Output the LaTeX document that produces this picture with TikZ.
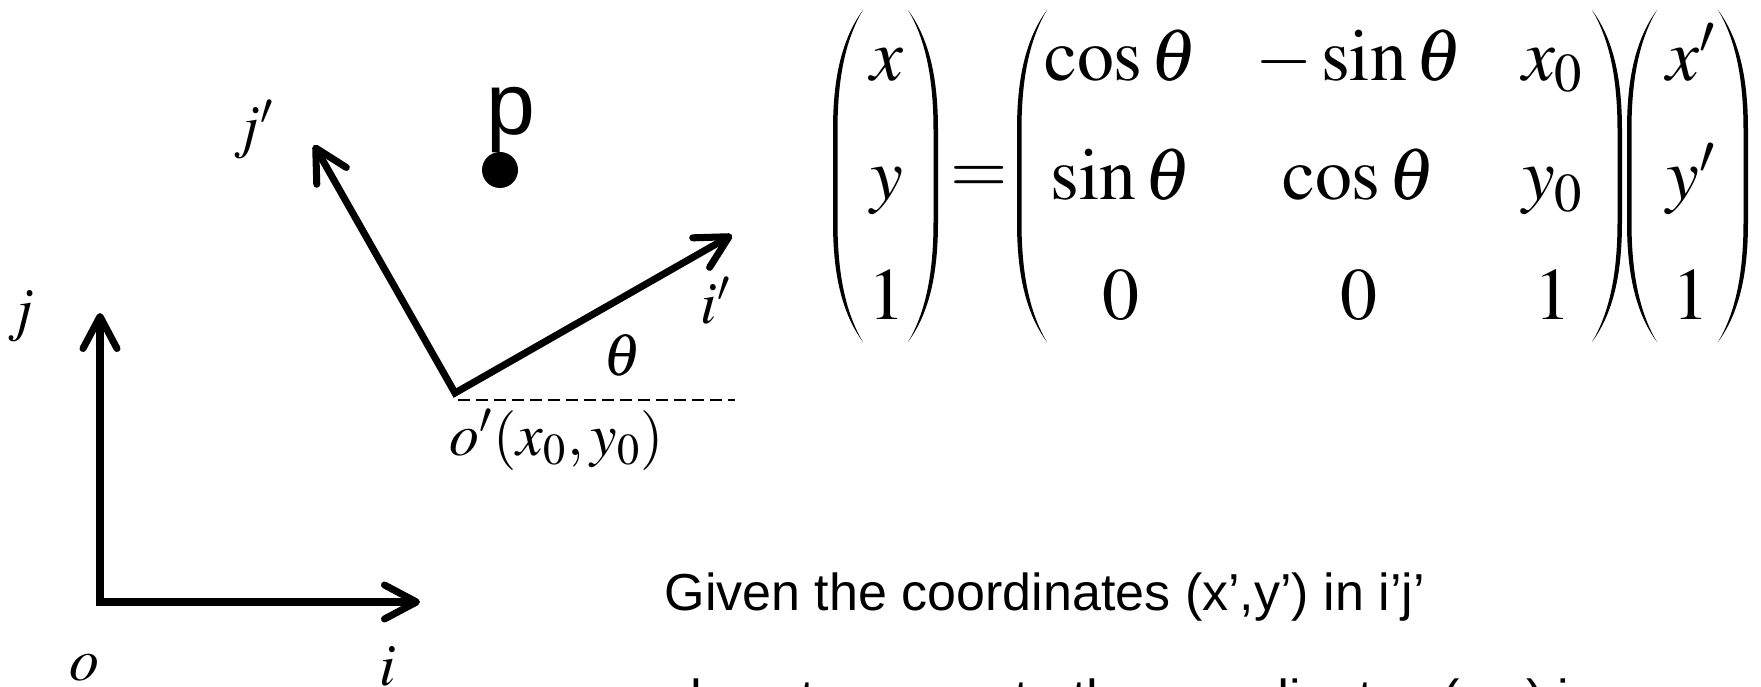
\documentclass[tikz,border=0pt]{standalone}
\usepackage{mathptmx}
\usepackage{fontspec}
\setmainfont{Liberation Serif}
\newfontfamily\arialfont{Liberation Sans}
\usetikzlibrary{arrows.meta}
\newcommand{\lparen}[3]{\fill (#1+30,#2) .. controls (#1+8,#2+30) and (#1,#2+70) .. (#1,#2+120)
  -- (#1,#3-120) .. controls (#1,#3-70) and (#1+8,#3-30) .. (#1+30,#3)
  .. controls (#1+12,#3-30) and (#1+4.5,#3-70) .. (#1+4.5,#3-120)
  -- (#1+4.5,#2+120) .. controls (#1+4.5,#2+70) and (#1+12,#2+30) .. cycle;}
\newcommand{\rparen}[3]{\fill (#1-30,#2) .. controls (#1-8,#2+30) and (#1,#2+70) .. (#1,#2+120)
  -- (#1,#3-120) .. controls (#1,#3-70) and (#1-8,#3-30) .. (#1-30,#3)
  .. controls (#1-12,#3-30) and (#1-4.5,#3-70) .. (#1-4.5,#3-120)
  -- (#1-4.5,#2+120) .. controls (#1-4.5,#2+70) and (#1-12,#2+30) .. cycle;}
\tikzset{
  barb/.tip={Straight Barb[length=3.2mm,width=3.4mm,round]},
  axisarrow/.style={line width=2pt,barb-barb},
  lbl/.style={font=\fontsize{17}{20}\selectfont,inner sep=0pt},
  eqn/.style={font=\fontsize{21}{34}\selectfont,inner sep=0pt},
  sans/.style={font=\arialfont\fontsize{14.8}{18}\selectfont,inner sep=0pt,anchor=base west}
}
\begin{document}
\begin{tikzpicture}[x=0.1mm,y=-0.1mm]
  \useasboundingbox (0,0) rectangle (1761,687);
  \clip (0,0) rectangle (1761,687);
  \coordinate (o) at (100,602);
  \coordinate (itip) at (420,602);
  \coordinate (jtip) at (100,313);
  \coordinate (op) at (455,393);
  \coordinate (iptip) at (732,235);
  \coordinate (jptip) at (314,145);
  \coordinate (dstart) at (458,400);
  \coordinate (dend) at (735,400);
  \draw[axisarrow] (jtip) -- (o) -- (itip);
  \draw[axisarrow] (jptip) -- (op) -- (iptip);
  \draw[line width=0.6pt,dash pattern=on 1.2mm off 0.6mm] (dstart) -- (dend);
  \node[lbl] (jlab) at (21,316) {$j$};
  \node[lbl] (olab) at (84,668) {$o$};
  \node[lbl] (ilab) at (388,666) {$i$};
  \node[lbl] (jplab) at (254,130) {$j'$};
  \node[lbl] (iplab) at (716,301) {$i'$};
  \node[lbl] (thlab) at (622,355) {$\theta$};
  \node[lbl] (oplab) at (557,440) {$o'(x_0,y_0)$};
  \node[font=\arialfont\fontsize{25}{30}\selectfont,inner sep=0pt] (plab) at (511,120) {p};
  \node[circle,fill,inner sep=0pt,minimum size=3.6mm] (pt) at (500,170) {};
  \node[eqn] (lhs) at (887,176) {$\begin{array}{@{}c@{}} x\\ y\\ 1\end{array}$};
  \node[eqn] (eqsign) at (979,180) {$=$};
  \node[eqn] (rotc1) at (1121,176) {$\begin{array}{@{}c@{}} \cos\theta\\ \sin\theta\\ 0\end{array}$};
  \node[eqn] (rotc2) at (1359,176) {$\begin{array}{@{}c@{}} -\sin\theta\\ \cos\theta\\ 0\end{array}$};
  \node[eqn] (rotc3) at (1553,176) {$\begin{array}{@{}c@{}} x_0\\ y_0\\ 1\end{array}$};
  \node[eqn] (rhs) at (1691,176) {$\begin{array}{@{}c@{}} x'\\ y'\\ 1\end{array}$};
  \lparen{833}{10}{342}
  \rparen{938}{10}{342}
  \lparen{1017}{10}{342}
  \rparen{1622}{10}{342}
  \lparen{1627}{10}{342}
  \rparen{1748}{10}{342}
  \node[sans] (given) at (664,611) {Given the coordinates (x’,y’) in i’j’};
  \node[sans] (howto) at (690,717) {how to compute the coordinates (x,y) in};
\end{tikzpicture}
\end{document}
